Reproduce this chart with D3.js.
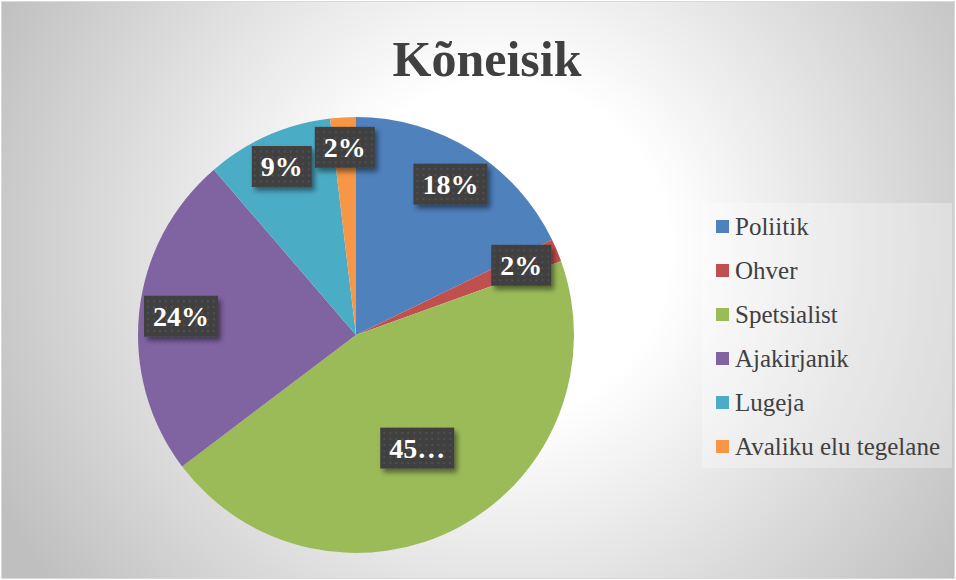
<!DOCTYPE html>
<html>
<head>
<meta charset="utf-8">
<script src="https://cdn.jsdelivr.net/npm/d3@7"></script>
<style>
  body { margin: 0; background: #fff; }
  svg { display: block; }
</style>
</head>
<body>
<div id="chart"></div>
<script>
// Data
var categories = ["Poliitik", "Ohver", "Spetsialist", "Ajakirjanik", "Lugeja", "Avaliku elu tegelane"];
var shares = [17.8, 1.7, 45.2, 24.0, 9.4, 1.9];
var sliceLabels = ["18%", "2%", "45\u2026", "24%", "9%", "2%"];
var colors = ["#4F81BD", "#C0504D", "#9BBB59", "#8064A2", "#4BACC6", "#F79646"];
var title = "K\u00f5neisik";

var W = 956, H = 580;
var cx = 356, cy = 335, R = 218;
var serif = "'Liberation Serif', 'Times New Roman', serif";

var svg = d3.select("#chart").append("svg")
    .attr("width", W).attr("height", H);

var defs = svg.append("defs");

var grad = defs.append("radialGradient")
    .attr("id", "bg")
    .attr("gradientUnits", "userSpaceOnUse")
    .attr("cx", 500).attr("cy", 250).attr("r", 560);
grad.append("stop").attr("offset", "0.3").attr("stop-color", "#ffffff");
grad.append("stop").attr("offset", "1").attr("stop-color", "#bfbfbf");

var pat = defs.append("pattern")
    .attr("id", "dots")
    .attr("patternUnits", "userSpaceOnUse")
    .attr("width", 6).attr("height", 6);
pat.append("rect").attr("width", 6).attr("height", 6).attr("fill", "#404040");
pat.append("rect").attr("x", 2).attr("y", 2).attr("width", 2).attr("height", 2)
    .attr("fill", "#4f4f4f");

var shadow = defs.append("filter").attr("id", "shadow")
    .attr("x", "-20%").attr("y", "-20%").attr("width", "150%").attr("height", "160%");
shadow.append("feDropShadow")
    .attr("dx", 3).attr("dy", 4).attr("stdDeviation", 2.5)
    .attr("flood-color", "#000").attr("flood-opacity", 0.45);

// chart area
svg.append("rect")
    .attr("x", 1.5).attr("y", 1.5)
    .attr("width", W - 3).attr("height", H - 3)
    .attr("fill", "url(#bg)")
    .attr("stroke", "#d9d9d9");

svg.append("text")
    .attr("x", 487).attr("y", 76)
    .attr("text-anchor", "middle")
    .style("font-family", serif)
    .style("font-weight", "bold")
    .style("font-size", "50px")
    .style("fill", "#404040")
    .text(title);

var data = categories.map(function (c, i) {
    return { name: c, value: shares[i], color: colors[i], label: sliceLabels[i] };
});

var pie = d3.pie().sort(null).value(function (d) { return d.value; });
var arc = d3.arc().innerRadius(0).outerRadius(R);
var arcs = pie(data);

var g = svg.append("g").attr("transform", "translate(" + cx + "," + cy + ")");

g.selectAll("path.slice")
    .data(arcs)
    .enter().append("path")
    .attr("class", "slice")
    .attr("d", arc)
    .attr("fill", function (d) { return d.data.color; });

// data labels (best fit: inside, near the rim)
var lab = g.selectAll("g.lab")
    .data(arcs)
    .enter().append("g")
    .attr("class", "lab");

lab.each(function (d) {
    var el = d3.select(this);
    var t = el.append("text")
        .attr("text-anchor", "middle")
        .attr("dy", "0.35em")
        .style("font-family", serif)
        .style("font-weight", "bold")
        .style("font-size", "28px")
        .style("fill", "#ffffff")
        .text(d.data.label);
    var bw = t.node().getComputedTextLength() + 18, bh = 41;
    var a = (d.startAngle + d.endAngle) / 2;
    var ext = Math.abs(Math.sin(a)) * bw / 2 + Math.abs(Math.cos(a)) * bh / 2;
    var rr = (d.endAngle - d.startAngle) > Math.PI * 0.6 ? R * 0.59 : Math.min(R - ext - 3, 188);
    var x = Math.sin(a) * rr, y = -Math.cos(a) * rr;
    el.insert("rect", "text")
        .attr("x", -bw / 2).attr("y", -bh / 2)
        .attr("width", bw).attr("height", bh)
        .attr("fill", "url(#dots)")
        .attr("filter", "url(#shadow)");
    el.attr("transform", "translate(" + x + "," + y + ")");
});

// legend
var legend = svg.append("g");
legend.append("rect")
    .attr("x", 702).attr("y", 203)
    .attr("width", 250).attr("height", 265)
    .attr("fill", "#ffffff").attr("opacity", 0.3);

var ly = d3.scalePoint().domain(categories).range([227, 447]);

var item = legend.selectAll("g.item")
    .data(data)
    .enter().append("g")
    .attr("class", "item")
    .attr("transform", function (d) { return "translate(716," + ly(d.name) + ")"; });

item.append("rect")
    .attr("x", 0).attr("y", -7)
    .attr("width", 13).attr("height", 13)
    .attr("fill", function (d) { return d.color; });

item.append("text")
    .attr("x", 19).attr("y", 8)
    .style("font-family", serif)
    .style("font-size", "25px")
    .style("fill", "#404040")
    .text(function (d) { return d.name; });
</script>
</body>
</html>
